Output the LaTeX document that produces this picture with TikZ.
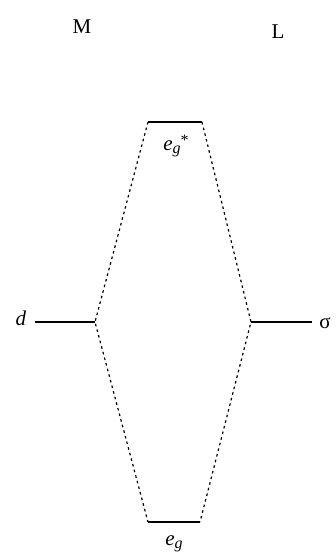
\documentclass[tikz,border=0pt]{standalone}
\usepackage{fontspec}
\setmainfont{Liberation Serif}
\usetikzlibrary{calc}

\begin{document}
\begin{tikzpicture}[x=1pt,y=-1pt,
	level/.style={line width=1.1pt},
	corr/.style={line width=1.2pt,dash pattern=on 2.6pt off 3.2pt},
	lbl/.style={font=\fontsize{21}{24}\selectfont,inner sep=0pt}]
		\useasboundingbox (0,0) rectangle (336,559);
		% column labels
		\node[lbl] (M) at (82,27) {M};
		\node[lbl] (L) at (278,32) {L};
		% level ends
		\coordinate (egsL) at (148,122);
		\coordinate (egsR) at (202,122);
		\coordinate (dL) at (35,322);
		\coordinate (dR) at (95,322);
		\coordinate (sL) at (251,322);
		\coordinate (sR) at (312,322);
		\coordinate (egL) at (148,522);
		\coordinate (egR) at (200,522);
		% levels
		\draw[level] (egsL) -- (egsR);
		\draw[level] (dL) -- (dR);
		\draw[level] (sL) -- (sR);
		\draw[level] (egL) -- (egR);
		% correlation lines
		\draw[corr] (egsL) -- (dR) -- (egL);
		\draw[corr] (egsR) -- (sL) -- (egR);
		% level labels
		\node[lbl] (d) at (21,318) {\itshape d};
		\node[lbl] (sigma) at (325,323) {σ};
		\node[lbl] (egs) at (176,146) {\itshape e\raisebox{-0.35ex}{\fontsize{16}{17}\selectfont g}\raisebox{0.5ex}{\upshape\fontsize{16}{17}\selectfont *}};
		\node[lbl] (eg) at (174,544) {\itshape e\raisebox{-0.35ex}{\fontsize{16}{17}\selectfont g}};
\end{tikzpicture}
\end{document}
